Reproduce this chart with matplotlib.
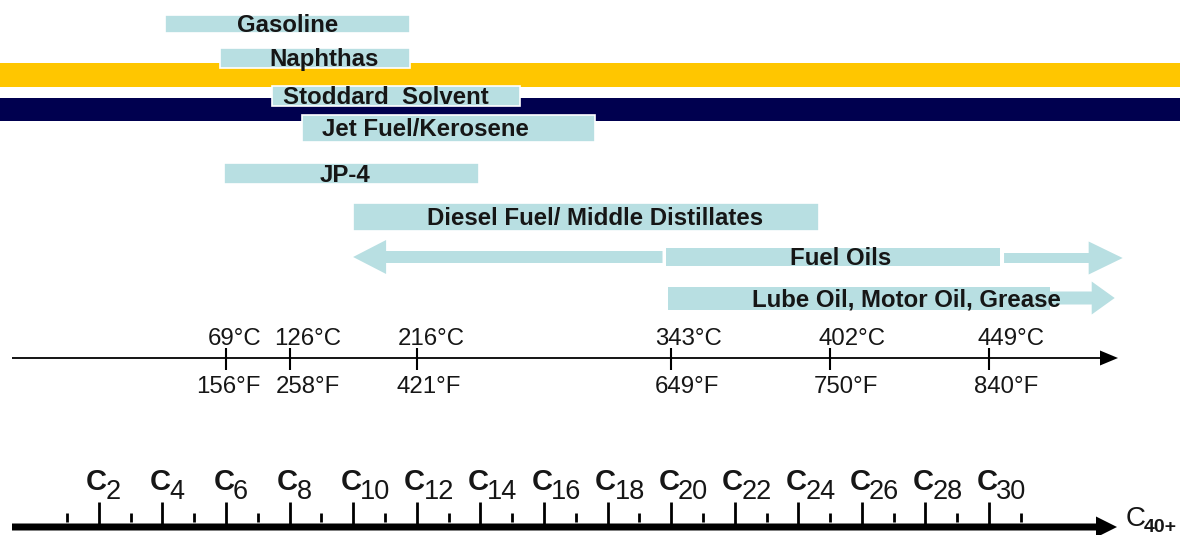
import matplotlib
matplotlib.use("Agg")
import matplotlib.pyplot as plt
from matplotlib.patches import Rectangle, FancyArrow

plt.rcParams['font.family'] = ['Liberation Sans', 'DejaVu Sans']

# product ranges on the carbon number scale
products = ["Gasoline", "Naphthas", "Stoddard  Solvent", "Jet Fuel/Kerosene",
            "JP-4", "Diesel Fuel/ Middle Distillates"]
c_start = [4.1, 5.8, 7.45, 8.4, 5.95, 10.0]
c_end = [11.8, 11.8, 15.25, 17.6, 13.95, 24.65]

# fuel oils: box plus arrows out to both sides
fuel_label = "Fuel Oils"
fuel_box = [19.85, 30.35]
fuel_tips = [10.0, 34.2]

# lube oil: box plus arrow to the right
lube_label = "Lube Oil, Motor Oil, Grease"
lube_box = [19.9, 31.9]
lube_tip = 33.95

# boiling points of n-alkanes
temp_carbon = [6, 8, 12, 20, 25, 30]
temp_c = [69, 126, 216, 343, 402, 449]
temp_f = [156, 258, 421, 649, 750, 840]

carbon_major = list(range(2, 31, 2))
carbon_minor = list(range(1, 32, 2))

BAR = "#b8dfe2"
YELLOW = "#ffc600"
NAVY = "#00004f"
INK = "#161616"

# pixel layout: 1 carbon = 31.8 px, C0 sits at x = 35.1 px
X0 = 35.1
SCALE = 31.8


def cx(px):
    return (px - X0) / SCALE


fig = plt.figure(figsize=(11.8, 5.35), dpi=100)
ax = fig.add_axes([0, 0, 1, 1])
ax.set_xlim(cx(0), cx(1180))
ax.set_ylim(535, 0)
ax.axis('off')

# background bands
ax.add_patch(Rectangle((cx(0), 63), cx(1180) - cx(0), 24, facecolor=YELLOW, lw=0))
ax.add_patch(Rectangle((cx(0), 98), cx(1180) - cx(0), 23, facecolor=NAVY, lw=0))

# row layout (top, height) and label nudges in pixels
row_top = [15, 48, 86, 115, 163, 203]
row_h = [18, 20, 20, 27, 21, 28]
label_dx = [0, 9, -10, -23, -6, 9]

for name, s, e, top, h, dx in zip(products, c_start, c_end, row_top, row_h, label_dx):
    ax.add_patch(Rectangle((s, top), e - s, h, facecolor=BAR,
                           edgecolor='white', lw=1.2))
    ax.annotate(name, ((s + e) / 2, top + h / 2 + 1.5), xytext=(dx, 0),
                textcoords='offset pixels', ha='center', va='center',
                fontsize=17.3, fontweight='bold', color=INK)

# fuel oils
fy = 257
ax.add_patch(FancyArrow(fuel_box[0] - 0.12, fy, fuel_tips[0] - fuel_box[0] + 0.12, 0,
                        width=12, head_width=34, head_length=cx(386) - cx(353),
                        length_includes_head=True, facecolor=BAR, lw=0))
ax.add_patch(FancyArrow(fuel_box[1] + 0.12, fy + 1, fuel_tips[1] - fuel_box[1] - 0.12, 0,
                        width=10, head_width=33, head_length=cx(1123) - cx(1089),
                        length_includes_head=True, facecolor=BAR, lw=0))
ax.add_patch(Rectangle((fuel_box[0], 248), fuel_box[1] - fuel_box[0], 18,
                       facecolor=BAR, lw=0))
ax.annotate(fuel_label, (sum(fuel_box) / 2, fy + 1.5), xytext=(7, 0),
            textcoords='offset pixels', ha='center', va='center',
            fontsize=17.3, fontweight='bold', color=INK)

# lube oil
ly = 298
ax.add_patch(FancyArrow(lube_box[1] - 0.5, ly, lube_tip - lube_box[1] + 0.5, 0,
                        width=13, head_width=33, head_length=cx(1114) - cx(1091),
                        length_includes_head=True, facecolor=BAR, lw=0))
ax.add_patch(Rectangle((lube_box[0], 287), lube_box[1] - lube_box[0], 23,
                       facecolor=BAR, lw=0))
ax.annotate(lube_label, ((lube_box[0] + lube_tip) / 2, ly + 1.5), xytext=(15, 0),
            textcoords='offset pixels', ha='center', va='center',
            fontsize=17.3, fontweight='bold', color=INK)

# temperature axis
ty = 358
ax.add_patch(FancyArrow(cx(12), ty, cx(1118) - cx(12), 0, width=1.8, head_width=15,
                        head_length=cx(1118) - cx(1100), length_includes_head=True,
                        facecolor='black', lw=0))
ax.vlines(temp_carbon, 348, 370, color='black', lw=1.5)
c_dx = [-18, -15, -19, -16, -12, -12]
f_dx = [-30, -14, -20, -16, -16, -15]
for n, tc, tf, dc, df in zip(temp_carbon, temp_c, temp_f, c_dx, f_dx):
    ax.annotate(f"{tc}°C", (n, 345), xytext=(dc, 0), textcoords='offset pixels',
                ha='left', va='baseline', fontsize=17.3, color=INK)
    ax.annotate(f"{tf}°F", (n, 393), xytext=(df, 0), textcoords='offset pixels',
                ha='left', va='baseline', fontsize=17.3, color=INK)

# carbon number axis
by = 527
ax.add_patch(FancyArrow(cx(12), by, cx(1117) - cx(12), 0, width=7, head_width=21,
                        head_length=cx(1117) - cx(1096), length_includes_head=True,
                        facecolor='black', lw=0))
ax.vlines(carbon_major, 502, 526, color='black', lw=2)
ax.vlines(carbon_minor, 513, 522, color='black', lw=2)
for n in carbon_major:
    ax.annotate("C", (n, 490), xytext=(-2, 0), textcoords='offset pixels',
                ha='center', va='baseline', fontsize=21, fontweight='bold', color=INK)
    ax.annotate(str(n), (n, 499), xytext=(7, 0), textcoords='offset pixels',
                ha='left', va='baseline', fontsize=19.5, color=INK)
ax.text(cx(1126), 526, "C", ha='left', va='baseline', fontsize=20, color=INK)
ax.text(cx(1144), 532, "40+", ha='left', va='baseline', fontsize=14,
        fontweight='bold', color=INK)

fig.savefig("out.png", dpi=100)
